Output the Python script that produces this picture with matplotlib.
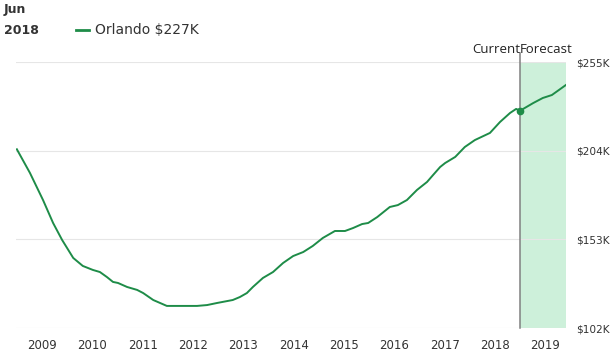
import matplotlib
matplotlib.use("Agg")
import matplotlib.pyplot as plt

plt.rcParams['font.family'] = ['DejaVu Sans']

# Historical series (decimal years, $K)
hist_t = [2008.50, 2008.76, 2009.02, 2009.22, 2009.40, 2009.62, 2009.81, 2010.01,
          2010.15, 2010.29, 2010.41, 2010.51, 2010.69, 2010.89, 2011.01, 2011.15,
          2011.21, 2011.48, 2011.68, 2011.88, 2012.08, 2012.28, 2012.48, 2012.68,
          2012.79, 2012.93, 2013.07, 2013.19, 2013.39, 2013.59, 2013.79, 2013.99,
          2014.19, 2014.38, 2014.58, 2014.82, 2015.02, 2015.18, 2015.36, 2015.48,
          2015.66, 2015.91, 2016.07, 2016.25, 2016.45, 2016.65, 2016.77, 2016.91,
          2017.01, 2017.21, 2017.40, 2017.60, 2017.90, 2018.10, 2018.30, 2018.42,
          2018.50]
hist_v = [204.8, 191.2, 175.6, 162.4, 152.6, 142.3, 137.7, 135.4,
          134.2, 131.3, 128.5, 127.9, 125.6, 123.9, 122.1, 119.3,
          118.1, 114.7, 114.7, 114.7, 114.7, 115.2, 116.4, 117.5,
          118.1, 119.8, 122.1, 125.6, 130.8, 134.2, 139.4, 143.4,
          145.7, 149.2, 153.8, 157.8, 157.8, 159.5, 161.8, 162.4,
          165.8, 171.6, 172.7, 175.6, 181.4, 186.0, 190.0, 194.6,
          196.9, 200.4, 206.1, 210.1, 214.2, 220.5, 225.7, 228.0,
          227.0]

# Forecast series
fc_t = [2018.50, 2018.76, 2018.95, 2019.13, 2019.41]
fc_v = [227.0, 231.4, 234.3, 236.0, 241.8]

current_t = 2018.50
current_v = 227.0

years = list(range(2009, 2020))
y_ticks = [102, 153, 204, 255]
y_labels = ["$102K", "$153K", "$204K", "$255K"]

city = "Orlando"
label_month = "Jun"
label_year = "2018"

GREEN = "#1e8c48"
SHADE = "#cdf0da"
TEXT = "#333333"

fig = plt.figure(figsize=(6.15, 3.55), dpi=100)
ax = fig.add_axes([16/615, 1-328/355, (566-16)/615, (328-62)/355])

xmin, xmax = 2008.483, 2019.411
ax.set_xlim(xmin, xmax)
ax.set_ylim(y_ticks[0], y_ticks[-1])

ax.axvspan(current_t, xmax, color=SHADE, lw=0, zorder=0)
for v in y_ticks:
    ax.axhline(v, color="#e6e6e6", lw=0.8, zorder=1)

ax.plot(hist_t, hist_v, color=GREEN, lw=1.4, zorder=3, solid_joinstyle='round')
ax.plot(fc_t, fc_v, color=GREEN, lw=1.4, zorder=3, solid_joinstyle='round')
ax.plot([current_t], [current_v], 'o', color=GREEN, ms=4.5, zorder=4)

ax.plot([current_t, current_t], [y_ticks[0], y_ticks[-1] + 5], color="#808080",
        lw=1.1, zorder=2, clip_on=False)

for s in ax.spines.values():
    s.set_visible(False)

ax.set_xticks(years)
ax.set_xticklabels([str(y) for y in years], fontsize=8.5, color=TEXT)
ax.tick_params(axis='x', length=0, pad=8)
ax.yaxis.tick_right()
ax.set_yticks(y_ticks)
ax.set_yticklabels(y_labels, fontsize=7.6, color=TEXT)
ax.tick_params(axis='y', length=0, pad=7.5)

ax.text(current_t, y_ticks[-1] + 3.5, "Current", ha='right', va='bottom',
        fontsize=9.5, color="#222222", family=['Open Sans', 'DejaVu Sans'])
ax.text(current_t, y_ticks[-1] + 3.5, "Forecast", ha='left', va='bottom',
        fontsize=9.5, color="#222222", family=['Open Sans', 'DejaVu Sans'])

fig.text(4/615, 1-10/355, label_month, fontsize=9, fontweight='bold', color=TEXT, va='center')
fig.text(4/615, 1-30/355, label_year, fontsize=9, fontweight='bold', color=TEXT, va='center')
fig.lines.append(plt.Line2D([76/615, 89/615], [1-30/355, 1-30/355], color=GREEN, lw=2,
                            transform=fig.transFigure))
fig.text(95/615, 1-30/355, f"{city} ${round(current_v)}K", fontsize=10, color=TEXT, va='center')

fig.savefig("out.png", dpi=100)
